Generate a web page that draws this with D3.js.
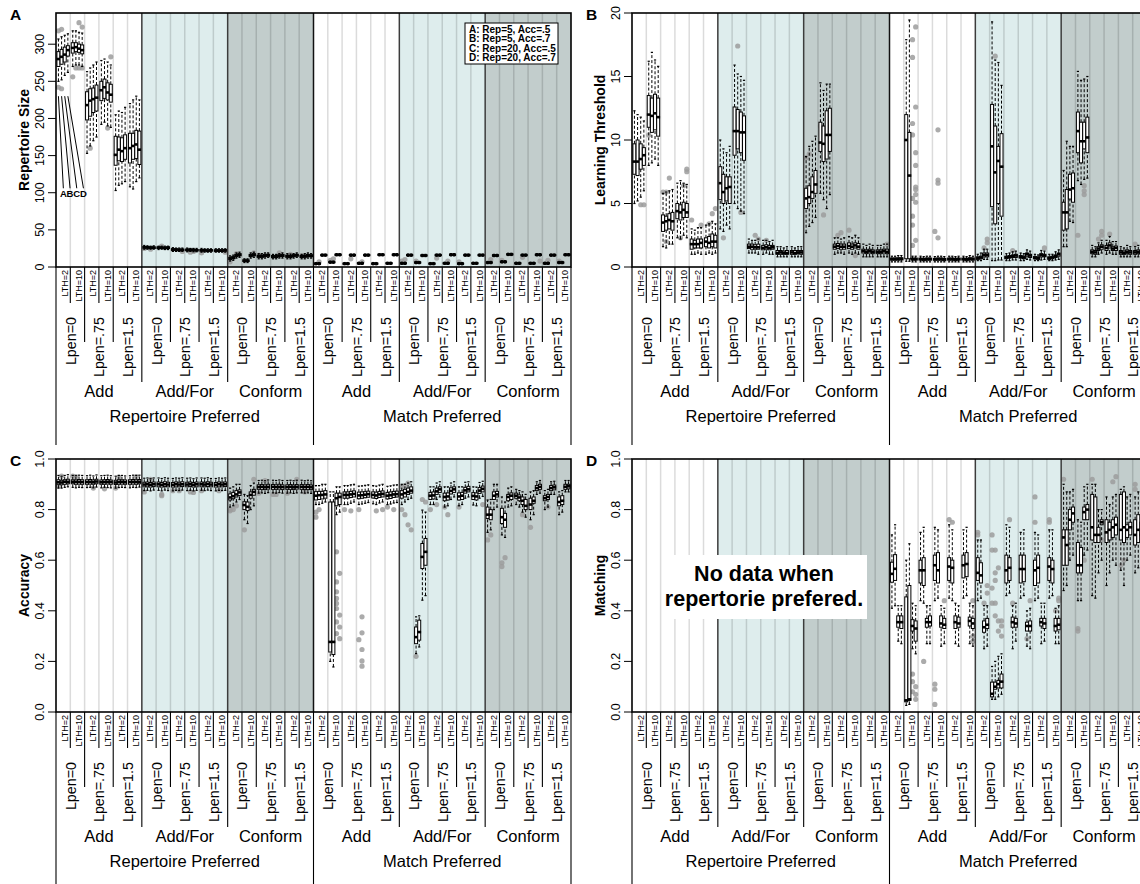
<!DOCTYPE html>
<html>
<head>
<meta charset="utf-8">
<script src="https://cdn.jsdelivr.net/npm/d3@7"></script>
<style>
body { margin: 0; background: #fff; }
svg { display: block; font-family: "Liberation Sans", Arial, sans-serif; }
</style>
</head>
<body>
<svg id="chart" width="1140" height="884"></svg>
<script>
// categories (x axis nesting: preference > update rule > Lpen > LTH)
var prefs = ["Repertoire Preferred", "Match Preferred"];
var types = ["Add", "Add/For", "Conform"];
var lpens = ["Lpen=0", "Lpen=.75", "Lpen=1.5"];
var lths = ["LTH=2", "LTH=10"];
var conds = ["A: Rep=5, Acc=.5", "B: Rep=5, Acc=.7", "C: Rep=20, Acc=.5", "D: Rep=20, Acc=.7"];

// each group: 4 boxes (A,B,C,D) as [lowWhisker, q1, median, q3, highWhisker]
var sizeBoxes = [
  [[250,270,280,290,307],[252,273,283,293,310],[258,276,286,296,312],[262,284,292,298,314]],
  [[270,288,295,302,318],[272,290,296,302,318],[272,289,294,300,316],[270,287,292,299,315]],
  [[153,198,218,236,263],[163,203,224,240,268],[170,208,226,241,272],[175,210,228,245,276]],
  [[192,224,238,250,278],[195,227,242,253,280],[190,225,235,248,276],[188,222,232,246,272]],
  [[103,137,151,176,205],[110,143,158,175,210],[112,142,156,174,208],[115,145,160,178,215]],
  [[108,140,160,180,220],[105,145,163,180,225],[115,146,165,184,230],[120,138,158,183,225]],
  [[24,25.5,26.5,27.5,29],[24,25.5,26.5,27,28.5],[24,25,26,27,28],[24,25,26,27,28.5]],
  [[23.5,25,26,27,28],[24,25,26,26.5,28],[23.5,25,25.5,26.5,28],[23.5,25,26,27,28]],
  [[21,22.5,23.5,24.5,26],[21,22.5,23.5,24,25.5],[21,22,23,24,25.5],[21,22.5,23,24,25.5]],
  [[20.5,22,23,24,25.5],[21,22,23,24,25],[20.5,22,23,23.5,25],[20.5,22,22.5,23.5,25]],
  [[20,21.5,22.5,23.5,25],[20,21.5,22.5,23,24.5],[20,21.5,22,23,24.5],[20,21.5,22.5,23,24.5]],
  [[20,21.5,22,23,24.5],[20,21,22,23,24.5],[20,21.5,22,23,24.5],[20,21.5,22.5,23,24.5]],
  [[8,10,11.5,13,15],[9,11,12.5,14,16],[12,14,15.5,17,19],[13,15,16.5,18,20]],
  [[6,7.5,8.5,9.5,11],[6,7.5,8.5,9.5,11],[12,14,15.5,17,19],[13,15,16.5,18,20]],
  [[11,13,14.5,16,18],[11,13,14.5,16,18],[12,14,15.5,17,19],[13,14.5,16,17,19]],
  [[11,12.5,14,15.5,17],[11,13,14,15.5,17],[12,14,15,16.5,18],[12,14,15.5,17,19]],
  [[11,13,14.5,16,18],[11,13,14,15.5,17.5],[12,14,15.5,16.5,18],[13,14.5,16,17,19]],
  [[11,13,14,15.5,17],[11,13,14.5,16,18],[12,14,15.5,17,19],[12,14,15,16.5,18]],
  [[3,4,4.5,5,6],[3,4,4.5,5,6],[14.5,15.5,16,16.5,17.5],[14.5,15.5,16,16.5,17.5]],
  [[5,6,6.5,7,8],[5,6,6.5,7,8],[15,16,16.5,17,18],[15,16,16.5,17,18]],
  [[3,4,4.5,5,6],[3,4,4.5,5,6],[14.5,15.5,16,16.5,17.5],[14.5,15.5,16,16.5,17.5]],
  [[3.5,4.5,5,5.5,6.5],[3.5,4.5,5,5.5,6.5],[14.5,15.5,16,16.5,17.5],[14.5,15.5,16,16.5,17.5]],
  [[3,4,4.5,5,6],[3,4,4.5,5,6],[15,16,16.5,17,18],[15,16,16.5,17,18]],
  [[3.5,4.5,5,5.5,6.5],[3.5,4.5,5,5.5,6.5],[15,16,16.5,17,18],[15,16,16.5,17,18]],
  [[3.5,4.5,5,5.5,6.5],[3.5,4.5,5,5.5,6.5],[14.5,15.5,16,16.5,17.5],[14.5,15.5,16,16.5,17.5]],
  [[4.5,5.5,6,6.5,7.5],[4.5,5.5,6,6.5,7.5],[14,15,15.5,16,17],[14,15,15.5,16,17]],
  [[3,4,4.5,5,6],[3,4,4.5,5,6],[14.5,15.5,16,16.5,17.5],[14.5,15.5,16,16.5,17.5]],
  [[3.5,4.5,5,5.5,6.5],[3.5,4.5,5,5.5,6.5],[15,16,16.5,17,18],[15,16,16.5,17,18]],
  [[3,4,4.5,5,6],[3,4,4.5,5,6],[14.5,15.5,16,16.5,17.5],[14.5,15.5,16,16.5,17.5]],
  [[3.5,4.5,5,5.5,6.5],[3.5,4.5,5,5.5,6.5],[14.5,15.5,16,16.5,17.5],[14.5,15.5,16,16.5,17.5]],
  [[4.5,5.5,6,6.5,7.5],[4.5,5.5,6,6.5,7.5],[14,15,15.5,16,17],[14,15,15.5,16,17]],
  [[5.5,6.5,7,7.5,8.5],[5.5,6.5,7,7.5,8.5],[15.5,16.5,17,17.5,18.5],[15.5,16.5,17,17.5,18.5]],
  [[3.5,4.5,5,5.5,6.5],[3.5,4.5,5,5.5,6.5],[14.5,15.5,16,16.5,17.5],[14.5,15.5,16,16.5,17.5]],
  [[3.5,4.5,5,5.5,6.5],[3.5,4.5,5,5.5,6.5],[15,16,16.5,17,18],[15,16,16.5,17,18]],
  [[3.5,4.5,5,5.5,6.5],[3.5,4.5,5,5.5,6.5],[14.5,15.5,16,16.5,17.5],[14.5,15.5,16,16.5,17.5]],
  [[4.5,5.5,6,6.5,7.5],[4.5,5.5,6,6.5,7.5],[15,16,16.5,17,18],[15,16,16.5,17,18]]
];
// outliers: [group, condition, value]
var sizeOut = [
  [0,0,242],[0,0,318],[0,1,240],[0,1,320],[1,0,256],[1,1,268],[1,2,329],[1,2,268],[1,3,323],[1,3,268],
  [2,1,160],[3,3,283],[3,2,187],[6,0,25],[6,2,24],[7,1,28],[8,3,21],[9,1,20],[9,2,21],[10,0,19],[11,3,20],
  [12,0,7],[12,2,18],[13,3,19],[14,0,16],[15,2,19],[16,1,17],[17,0,15],[18,1,7],[19,0,9],[19,1,11],
  [20,2,11],[21,1,7],[24,0,8],[24,1,10],[25,0,8],[26,2,12],[27,1,8],[28,0,7],[30,1,10],[31,0,9],
  [32,2,13],[33,3,8],[34,1,9],[35,0,8]
];

var thresholdBoxes = [
  [[5.0,7.3,8.3,9.7,12.3],[5.2,7.2,8.3,10.0,12.0],[5.5,7.7,8.5,9.7,11.8],[6.0,8.0,8.8,9.4,11.5]],
  [[8.0,11.0,12.0,13.5,16.2],[8.2,10.6,11.9,13.3,16.9],[8.5,10.8,12.1,13.6,16.3],[8.0,10.3,11.8,13.3,15.8]],
  [[1.6,2.8,3.5,4.1,5.8],[1.5,2.9,3.6,4.0,5.9],[1.8,3.0,3.7,4.2,6.0],[1.8,2.9,3.6,4.3,6.1]],
  [[2.3,3.8,4.4,5.0,6.6],[2.2,3.7,4.3,4.9,6.8],[2.5,3.9,4.5,5.1,6.6],[2.3,3.9,4.3,5.0,6.5]],
  [[1.0,1.4,1.8,2.2,3.0],[1.0,1.5,1.8,2.1,2.9],[1.1,1.5,1.8,2.2,3.1],[1.0,1.5,1.9,2.2,3.1]],
  [[1.0,1.6,2.0,2.3,3.3],[1.1,1.5,1.9,2.4,3.4],[1.0,1.6,2.0,2.6,3.6],[1.1,1.5,2.0,2.5,3.4]],
  [[3.0,5.3,6.6,7.9,10.0],[2.8,5.0,5.9,7.3,9.3],[3.3,5.2,6.2,7.1,9.0],[3.0,5.0,6.3,7.1,9.5]],
  [[5.0,8.8,10.7,12.6,15.9],[4.6,9.3,10.7,12.4,15.2],[4.4,9.0,10.6,12.2,15.0],[4.2,8.4,10.6,11.9,14.7]],
  [[1.1,1.45,1.6,1.8,2.2],[1.1,1.4,1.6,1.8,2.1],[1.1,1.4,1.55,1.75,2.1],[1.0,1.4,1.55,1.8,2.2]],
  [[1.0,1.35,1.5,1.7,2.1],[1.1,1.4,1.55,1.75,2.1],[1.0,1.35,1.5,1.7,2.0],[1.0,1.4,1.55,1.7,2.1]],
  [[0.8,1.0,1.1,1.3,1.6],[0.8,1.0,1.15,1.3,1.6],[0.8,1.0,1.1,1.25,1.5],[0.8,1.0,1.1,1.3,1.6]],
  [[0.8,1.0,1.15,1.3,1.6],[0.8,1.0,1.1,1.3,1.5],[0.8,1.05,1.15,1.3,1.6],[0.8,1.0,1.15,1.3,1.6]],
  [[2.7,4.6,5.4,6.2,8.7],[3.2,5.0,5.5,6.4,9.5],[3.5,5.4,5.9,7.1,9.9],[3.9,5.8,6.5,7.6,10.3]],
  [[5.8,9.1,9.8,11.4,14.5],[5.3,8.3,9.7,11.1,13.9],[4.6,8.5,10.4,12.3,14.4],[5.7,9.1,10.4,12.5,14.4]],
  [[1.0,1.4,1.6,1.8,2.3],[1.1,1.45,1.65,1.85,2.3],[1.1,1.4,1.6,1.8,2.2],[1.0,1.4,1.6,1.8,2.3]],
  [[1.1,1.45,1.65,1.9,2.4],[1.0,1.4,1.6,1.8,2.3],[1.1,1.5,1.7,1.9,2.5],[1.0,1.4,1.6,1.85,2.3]],
  [[0.8,1.1,1.25,1.4,1.8],[0.8,1.05,1.2,1.35,1.7],[0.8,1.1,1.25,1.4,1.8],[0.8,1.05,1.2,1.35,1.7]],
  [[0.8,1.05,1.2,1.35,1.7],[0.8,1.05,1.2,1.35,1.7],[0.8,1.1,1.25,1.4,1.8],[0.8,1.05,1.2,1.4,1.8]],
  [[0.4,0.55,0.62,0.7,0.85],[0.4,0.55,0.62,0.7,0.85],[0.4,0.55,0.63,0.72,0.9],[0.4,0.55,0.65,0.72,0.9]],
  [[0.45,0.65,10.0,12.0,17.9],[0.45,0.65,7.2,10.6,19.45],[0.4,0.55,0.62,0.7,0.85],[0.4,0.55,0.62,0.7,0.85]],
  [[0.4,0.55,0.62,0.7,0.85],[0.4,0.5,0.6,0.68,0.82],[0.4,0.55,0.62,0.7,0.85],[0.4,0.55,0.62,0.7,0.85]],
  [[0.4,0.55,0.6,0.68,0.82],[0.4,0.55,0.62,0.7,0.85],[0.4,0.55,0.62,0.7,0.85],[0.4,0.5,0.6,0.68,0.82]],
  [[0.4,0.55,0.62,0.7,0.85],[0.4,0.55,0.62,0.7,0.85],[0.4,0.5,0.6,0.68,0.82],[0.4,0.55,0.62,0.7,0.85]],
  [[0.4,0.55,0.62,0.7,0.85],[0.4,0.5,0.6,0.68,0.82],[0.4,0.55,0.65,0.72,0.9],[0.4,0.55,0.62,0.7,0.85]],
  [[0.5,0.6,0.7,0.8,1.0],[0.5,0.65,0.75,0.85,1.1],[0.6,0.8,0.95,1.1,1.4],[0.6,0.8,0.95,1.1,1.4]],
  [[0.5,4.75,9.5,12.8,19.3],[0.5,3.4,7.45,11.1,16.3],[0.55,5.0,8.35,9.5,16.1],[0.55,4.0,7.9,10.5,14.3]],
  [[0.5,0.65,0.75,0.85,1.05],[0.5,0.7,0.8,0.9,1.1],[0.55,0.75,0.85,0.95,1.2],[0.55,0.75,0.9,1.0,1.25]],
  [[0.5,0.7,0.8,0.9,1.1],[0.5,0.65,0.75,0.85,1.05],[0.6,0.85,1.0,1.1,1.35],[0.55,0.75,0.9,1.0,1.25]],
  [[0.5,0.65,0.72,0.82,1.0],[0.5,0.6,0.7,0.8,0.95],[0.55,0.8,0.95,1.05,1.3],[0.6,0.8,0.9,1.0,1.25]],
  [[0.5,0.6,0.7,0.8,1.0],[0.5,0.65,0.75,0.85,1.0],[0.55,0.75,0.85,0.95,1.2],[0.6,0.85,1.0,1.1,1.35]],
  [[1.6,2.9,4.3,5.1,7.6],[1.6,3.0,4.3,6.1,9.9],[3.6,5.35,6.1,7.3,9.5],[3.5,5.1,6.2,7.4,9.5]],
  [[6.8,9.0,10.7,12.2,15.4],[6.5,8.2,9.9,11.4,14.7],[6.9,9.3,9.9,11.4,14.8],[7.0,9.0,10.2,11.8,15.0]],
  [[0.8,1.05,1.2,1.35,1.7],[0.8,1.0,1.15,1.3,1.6],[1.0,1.3,1.45,1.6,1.9],[1.1,1.4,1.6,1.75,2.1]],
  [[1.0,1.3,1.5,1.7,2.1],[1.1,1.5,1.7,1.9,2.4],[1.0,1.3,1.45,1.6,2.0],[1.0,1.3,1.5,1.65,2.0]],
  [[0.8,1.0,1.15,1.3,1.6],[0.8,1.0,1.1,1.25,1.5],[0.8,1.05,1.2,1.35,1.7],[0.8,1.0,1.15,1.3,1.6]],
  [[0.8,1.0,1.15,1.3,1.6],[0.8,1.05,1.2,1.35,1.7],[0.8,1.0,1.15,1.3,1.6],[0.8,1.0,1.1,1.3,1.6]]
];
var thresholdOut = [
  [0,2,4.9],[0,3,4.9],[1,0,10.4],[2,0,5.9],[2,1,5.9],[2,2,7.0],[2,1,2.0],[3,3,7.7],[3,3,7.5],[3,2,6.4],
  [3,1,2.3],[4,0,3.7],[4,3,3.3],[5,1,3.4],[5,2,4.2],[5,3,4.6],[6,1,2.3],[7,1,17.4],[7,2,4.3],[8,2,2.5],
  [8,3,2.2],[9,1,2.1],[12,0,8.6],[12,1,8.9],[13,0,11.1],[13,1,4.1],[14,1,2.5],[14,2,2.7],[15,0,2.9],
  [15,2,0.9],[17,3,1.8],
  [19,2,17.9],[19,2,16.5],[19,2,11.3],[19,2,10.4],[19,2,5.4],[19,2,4.0],[19,2,3.3],[19,2,1.7],
  [19,3,18.9],[19,3,12.6],[19,3,9.0],[19,3,8.0],[19,3,6.3],[19,3,6.1],[19,3,5.7],[19,3,5.1],[19,3,2.1],
  [21,1,10.8],[21,1,6.85],[21,1,6.6],[21,0,2.8],[21,1,2.3],[24,2,1.5],[24,3,1.9],[24,3,2.2],[25,1,16.6],
  [26,2,1.3],[28,3,1.5],[31,0,2.5],[31,2,5.7],[31,2,6.0],[31,2,6.4],[32,2,2.2],[32,3,2.5],[32,3,2.8],
  [33,1,2.6],[35,0,1.8]
];

var accuracyBoxes = [
  [[0.885,0.9,0.908,0.918,0.935],[0.885,0.898,0.907,0.916,0.932],[0.888,0.9,0.91,0.918,0.935],[0.89,0.902,0.91,0.92,0.938]],
  [[0.888,0.902,0.91,0.918,0.935],[0.886,0.9,0.909,0.917,0.934],[0.888,0.901,0.91,0.919,0.936],[0.887,0.9,0.909,0.918,0.935]],
  [[0.887,0.9,0.909,0.918,0.934],[0.888,0.901,0.91,0.919,0.936],[0.886,0.9,0.908,0.917,0.933],[0.889,0.902,0.911,0.92,0.937]],
  [[0.886,0.9,0.908,0.917,0.934],[0.888,0.9,0.909,0.918,0.935],[0.887,0.901,0.91,0.919,0.936],[0.886,0.9,0.909,0.917,0.934]],
  [[0.885,0.899,0.907,0.916,0.932],[0.887,0.9,0.909,0.918,0.935],[0.888,0.901,0.91,0.918,0.935],[0.887,0.9,0.908,0.917,0.933]],
  [[0.886,0.9,0.909,0.918,0.934],[0.888,0.901,0.91,0.919,0.936],[0.887,0.9,0.909,0.918,0.935],[0.889,0.902,0.91,0.919,0.936]],
  [[0.875,0.89,0.899,0.908,0.924],[0.876,0.89,0.9,0.909,0.925],[0.874,0.889,0.898,0.907,0.922],[0.877,0.891,0.9,0.909,0.925]],
  [[0.876,0.89,0.9,0.909,0.925],[0.874,0.889,0.898,0.907,0.923],[0.877,0.891,0.9,0.91,0.926],[0.875,0.89,0.899,0.908,0.924]],
  [[0.874,0.889,0.898,0.907,0.923],[0.876,0.89,0.9,0.909,0.925],[0.875,0.89,0.899,0.908,0.924],[0.877,0.891,0.9,0.91,0.926]],
  [[0.875,0.89,0.899,0.908,0.924],[0.876,0.891,0.9,0.909,0.925],[0.874,0.889,0.898,0.907,0.922],[0.876,0.89,0.9,0.909,0.925]],
  [[0.876,0.89,0.9,0.909,0.925],[0.875,0.89,0.899,0.908,0.924],[0.877,0.891,0.901,0.91,0.926],[0.875,0.89,0.899,0.908,0.923]],
  [[0.874,0.889,0.898,0.907,0.923],[0.876,0.89,0.9,0.909,0.925],[0.875,0.89,0.899,0.908,0.924],[0.876,0.891,0.9,0.909,0.925]],
  [[0.81,0.838,0.848,0.862,0.885],[0.815,0.843,0.853,0.868,0.89],[0.83,0.85,0.86,0.875,0.9],[0.84,0.856,0.868,0.878,0.9]],
  [[0.76,0.8,0.818,0.831,0.86],[0.745,0.796,0.811,0.83,0.855],[0.8,0.845,0.858,0.87,0.895],[0.815,0.857,0.87,0.88,0.905]],
  [[0.865,0.88,0.889,0.898,0.915],[0.866,0.88,0.89,0.899,0.916],[0.864,0.879,0.888,0.897,0.914],[0.867,0.881,0.89,0.9,0.917]],
  [[0.866,0.88,0.89,0.899,0.916],[0.865,0.88,0.889,0.898,0.915],[0.867,0.881,0.89,0.9,0.917],[0.865,0.879,0.889,0.898,0.915]],
  [[0.865,0.88,0.889,0.898,0.915],[0.866,0.88,0.89,0.899,0.916],[0.864,0.879,0.888,0.897,0.914],[0.866,0.881,0.89,0.899,0.916]],
  [[0.866,0.88,0.89,0.899,0.916],[0.865,0.879,0.889,0.898,0.914],[0.866,0.88,0.89,0.899,0.916],[0.864,0.879,0.888,0.897,0.914]],
  [[0.82,0.838,0.855,0.871,0.895],[0.82,0.84,0.857,0.872,0.895],[0.825,0.842,0.858,0.872,0.9],[0.83,0.845,0.86,0.875,0.9]],
  [[0.2,0.237,0.277,0.83,0.87],[0.178,0.227,0.277,0.83,0.87],[0.78,0.815,0.845,0.865,0.89],[0.79,0.82,0.85,0.865,0.89]],
  [[0.82,0.845,0.858,0.87,0.895],[0.82,0.845,0.858,0.87,0.895],[0.825,0.848,0.86,0.872,0.898],[0.83,0.85,0.862,0.874,0.9]],
  [[0.82,0.843,0.856,0.869,0.893],[0.822,0.845,0.857,0.87,0.894],[0.825,0.847,0.859,0.871,0.896],[0.828,0.849,0.861,0.873,0.898]],
  [[0.823,0.846,0.858,0.87,0.895],[0.82,0.844,0.856,0.869,0.893],[0.826,0.848,0.86,0.872,0.897],[0.83,0.85,0.862,0.874,0.9]],
  [[0.82,0.842,0.855,0.868,0.892],[0.822,0.844,0.857,0.87,0.894],[0.826,0.848,0.86,0.872,0.897],[0.828,0.85,0.861,0.873,0.898]],
  [[0.82,0.845,0.86,0.875,0.9],[0.83,0.85,0.865,0.88,0.9],[0.84,0.86,0.87,0.885,0.905],[0.845,0.865,0.875,0.89,0.91]],
  [[0.231,0.27,0.296,0.336,0.376],[0.257,0.284,0.316,0.363,0.38],[0.442,0.567,0.613,0.666,0.798],[0.46,0.58,0.633,0.686,0.79]],
  [[0.82,0.84,0.855,0.868,0.89],[0.82,0.842,0.856,0.87,0.89],[0.84,0.86,0.872,0.885,0.905],[0.85,0.868,0.88,0.89,0.91]],
  [[0.81,0.835,0.85,0.865,0.89],[0.815,0.838,0.852,0.866,0.89],[0.84,0.862,0.874,0.886,0.905],[0.85,0.868,0.88,0.89,0.91]],
  [[0.815,0.838,0.852,0.866,0.89],[0.82,0.84,0.855,0.868,0.89],[0.845,0.865,0.876,0.888,0.908],[0.85,0.87,0.88,0.892,0.91]],
  [[0.818,0.84,0.854,0.867,0.89],[0.815,0.838,0.852,0.866,0.889],[0.845,0.864,0.875,0.887,0.907],[0.852,0.87,0.882,0.893,0.912]],
  [[0.71,0.765,0.78,0.81,0.838],[0.72,0.76,0.78,0.8,0.84],[0.8,0.84,0.855,0.87,0.9],[0.81,0.85,0.86,0.872,0.9]],
  [[0.7,0.745,0.77,0.805,0.85],[0.69,0.73,0.76,0.785,0.83],[0.81,0.835,0.85,0.86,0.885],[0.815,0.84,0.855,0.866,0.89]],
  [[0.82,0.845,0.855,0.865,0.88],[0.81,0.835,0.848,0.858,0.875],[0.79,0.82,0.835,0.85,0.87],[0.77,0.8,0.815,0.84,0.86]],
  [[0.76,0.8,0.82,0.845,0.87],[0.78,0.825,0.835,0.85,0.875],[0.86,0.875,0.885,0.895,0.91],[0.865,0.88,0.89,0.9,0.915]],
  [[0.8,0.835,0.845,0.855,0.875],[0.81,0.84,0.85,0.86,0.88],[0.86,0.875,0.885,0.895,0.91],[0.86,0.878,0.888,0.897,0.912]],
  [[0.78,0.815,0.83,0.85,0.87],[0.79,0.82,0.835,0.855,0.875],[0.87,0.88,0.89,0.9,0.915],[0.87,0.882,0.892,0.9,0.915]]
];
var accuracyOut = [
  [0,0,0.893],[0,1,0.932],[1,0,0.932],[1,1,0.93],[2,2,0.885],[3,1,0.882],[4,0,0.885],[4,1,0.928],[5,2,0.93],
  [6,0,0.87],[6,2,0.92],[7,1,0.86],[7,1,0.855],[8,0,0.875],[8,2,0.875],[9,1,0.87],[9,2,0.868],[10,0,0.875],
  [11,1,0.875],[12,0,0.80],[12,0,0.795],[12,1,0.80],[12,2,0.815],[13,0,0.72],[13,3,0.92],[14,0,0.865],
  [14,2,0.915],[15,0,0.86],[15,1,0.86],[16,0,0.865],[16,3,0.92],[17,1,0.87],[18,0,0.77],[18,0,0.79],[18,1,0.80],
  [19,2,0.633],[19,2,0.514],[19,2,0.475],[19,2,0.449],[19,2,0.429],[19,2,0.409],[19,2,0.356],[19,2,0.31],
  [19,3,0.548],[19,3,0.383],[19,3,0.336],[19,3,0.29],[20,0,0.80],[20,2,0.795],[21,0,0.286],[21,1,0.376],
  [21,1,0.313],[21,1,0.247],[21,1,0.202],[21,1,0.181],[21,0,0.80],[22,1,0.795],[22,3,0.80],[23,0,0.81],
  [23,2,0.80],[24,0,0.80],[24,1,0.78],[24,2,0.74],[24,3,0.72],[24,0,0.89],[24,1,0.895],[24,2,0.905],
  [25,0,0.22],[25,2,0.84],[25,3,0.83],[26,0,0.8],[26,2,0.82],[27,1,0.78],[27,0,0.81],[28,0,0.81],[29,3,0.82],
  [30,0,0.68],[30,1,0.70],[31,0,0.59],[31,1,0.61],[31,0,0.575],[32,2,0.78],[33,0,0.73],[34,1,0.81]
];

var matchingBoxes = [
  null,null,null,null,null,null,null,null,null,null,null,null,null,null,null,null,null,null,
  [[0.41,0.513,0.546,0.592,0.70],[0.42,0.52,0.566,0.622,0.74],[0.28,0.335,0.355,0.38,0.42],[0.27,0.33,0.355,0.38,0.42]],
  [[0.026,0.04,0.046,0.455,0.60],[0.03,0.046,0.05,0.50,0.665],[0.25,0.32,0.34,0.365,0.43],[0.23,0.28,0.33,0.36,0.42]],
  [[0.44,0.51,0.56,0.60,0.71],[0.43,0.50,0.56,0.61,0.73],[0.27,0.335,0.355,0.37,0.42],[0.27,0.34,0.355,0.38,0.42]],
  [[0.44,0.52,0.58,0.62,0.73],[0.45,0.51,0.56,0.63,0.72],[0.26,0.335,0.35,0.38,0.42],[0.27,0.33,0.345,0.37,0.41]],
  [[0.45,0.52,0.575,0.61,0.74],[0.44,0.51,0.57,0.60,0.72],[0.27,0.33,0.355,0.38,0.43],[0.26,0.335,0.35,0.375,0.42]],
  [[0.45,0.53,0.58,0.62,0.72],[0.46,0.535,0.585,0.63,0.73],[0.27,0.34,0.36,0.375,0.43],[0.26,0.33,0.35,0.37,0.42]],
  [[0.44,0.52,0.55,0.61,0.68],[0.45,0.51,0.54,0.59,0.68],[0.25,0.315,0.335,0.36,0.42],[0.26,0.33,0.345,0.37,0.42]],
  [[0.05,0.06,0.072,0.118,0.18],[0.05,0.09,0.10,0.118,0.2],[0.06,0.095,0.11,0.125,0.22],[0.07,0.095,0.12,0.15,0.23]],
  [[0.46,0.51,0.56,0.62,0.74],[0.47,0.52,0.57,0.61,0.73],[0.25,0.335,0.355,0.375,0.42],[0.28,0.335,0.35,0.37,0.43]],
  [[0.45,0.51,0.565,0.62,0.71],[0.46,0.515,0.565,0.62,0.72],[0.26,0.32,0.34,0.355,0.40],[0.25,0.32,0.34,0.36,0.41]],
  [[0.44,0.50,0.56,0.60,0.71],[0.45,0.51,0.57,0.62,0.70],[0.27,0.34,0.355,0.37,0.43],[0.28,0.33,0.35,0.37,0.43]],
  [[0.45,0.52,0.575,0.61,0.72],[0.46,0.51,0.565,0.60,0.72],[0.27,0.32,0.34,0.37,0.41],[0.27,0.325,0.345,0.37,0.42]],
  [[0.48,0.58,0.69,0.72,0.90],[0.50,0.58,0.66,0.72,0.87],[0.60,0.72,0.76,0.80,0.87],[0.62,0.75,0.785,0.81,0.88]],
  [[0.44,0.55,0.58,0.67,0.76],[0.44,0.55,0.58,0.65,0.75],[0.62,0.76,0.79,0.81,0.89],[0.64,0.76,0.80,0.82,0.90]],
  [[0.46,0.68,0.73,0.86,0.90],[0.45,0.67,0.70,0.85,0.90],[0.55,0.67,0.70,0.73,0.80],[0.60,0.74,0.75,0.76,0.80]],
  [[0.50,0.67,0.71,0.76,0.85],[0.55,0.68,0.72,0.75,0.82],[0.60,0.69,0.73,0.76,0.85],[0.58,0.70,0.74,0.77,0.86]],
  [[0.56,0.68,0.72,0.86,0.88],[0.50,0.67,0.73,0.87,0.89],[0.60,0.69,0.72,0.74,0.85],[0.62,0.70,0.73,0.75,0.86]],
  [[0.55,0.66,0.70,0.76,0.85],[0.57,0.67,0.72,0.78,0.87],[0.58,0.67,0.70,0.75,0.86],[0.60,0.68,0.71,0.75,0.85]]
];
var matchingOut = [
  [19,2,0.15],[19,2,0.12],[19,2,0.08],[19,3,0.1],[19,3,0.07],[19,3,0.05],[21,0,0.11],[21,0,0.09],[21,0,0.03],
  [20,1,0.2],[21,3,0.44],[23,3,0.44],[23,3,0.3],[23,3,0.28],[22,0,0.76],[22,1,0.75],[24,0,0.71],[24,0,0.70],
  [24,2,0.43],[24,3,0.5],[24,3,0.47],[25,0,0.7],[25,0,0.64],[25,0,0.49],[25,0,0.43],[25,1,0.64],[25,1,0.55],
  [25,1,0.52],[25,1,0.43],[25,2,0.36],[25,2,0.32],[25,3,0.34],[25,3,0.3],[25,3,0.36],[25,2,0.57],[25,1,0.38],
  [26,2,0.43],[26,1,0.76],[27,2,0.29],[27,3,0.44],[28,0,0.85],[28,0,0.75],[29,0,0.75],[29,0,0.76],[29,3,0.44],
  [29,3,0.45],[29,2,0.4],[30,0,0.92],[31,0,0.33],[31,0,0.32],[31,2,0.6],[31,1,0.62],[32,0,0.92],[32,3,0.68],
  [33,2,0.91],[33,3,0.93],[34,0,0.58],[34,1,0.6],[35,0,0.9],[35,0,0.88]
];

var sizeTicks = [0, 50, 100, 150, 200, 250, 300];
var thresholdTicks = [0, 5, 10, 15, 20];
var propTicks = [0, 0.2, 0.4, 0.6, 0.8, 1.0];

var svg = d3.select("#chart");
var nGroups = 36;
var plotW = 515;
var bgColors = ["#ffffff", "#deeded", "#c2cdcc"];
var offs = [0.17, 0.39, 0.61, 0.83];  // box centres inside a group

var panels = [
  { letter: "A", title: "Repertoire Size", left: 56, top: 13, bottom: 267, domain: [0, 342],
    ticks: sizeTicks, fmt: d3.format("d"), boxes: sizeBoxes, outs: sizeOut },
  { letter: "B", title: "Learning Threshold", left: 632, top: 13, bottom: 267, domain: [0, 20],
    ticks: thresholdTicks, fmt: d3.format("d"), boxes: thresholdBoxes, outs: thresholdOut },
  { letter: "C", title: "Accuracy", left: 56, top: 459, bottom: 712, domain: [0, 1],
    ticks: propTicks, fmt: d3.format(".1f"), boxes: accuracyBoxes, outs: accuracyOut },
  { letter: "D", title: "Matching", left: 632, top: 459, bottom: 712, domain: [0, 1],
    ticks: propTicks, fmt: d3.format(".1f"), boxes: matchingBoxes, outs: matchingOut }
];

panels.forEach(drawPanel);

function drawPanel(p) {
  var g = svg.append("g");
  var x = d3.scaleLinear().domain([0, nGroups]).range([p.left, p.left + plotW]);
  var y = d3.scaleLinear().domain(p.domain).range([p.bottom, p.top]);

  // section backgrounds
  prefs.forEach(function(pr, pi) {
    types.forEach(function(t, ti) {
      var k = pi * 18 + ti * 6;
      g.append("rect")
        .attr("x", x(k)).attr("y", p.top)
        .attr("width", x(k + 6) - x(k)).attr("height", p.bottom - p.top)
        .attr("fill", bgColors[ti]);
    });
  });

  // light lines between groups
  d3.range(1, nGroups).filter(function(k) { return k % 6 != 0; }).forEach(function(k) {
    g.append("line")
      .attr("x1", x(k)).attr("x2", x(k))
      .attr("y1", p.top).attr("y2", p.bottom)
      .attr("stroke", "#000").attr("stroke-opacity", 0.14).attr("stroke-width", 1.5);
  });

  // outliers
  g.selectAll(".out")
    .data(p.outs)
    .enter()
    .append("circle")
    .attr("cx", function(d) { return x(d[0] + offs[d[1]]); })
    .attr("cy", function(d) { return y(d[2]); })
    .attr("r", 2.6)
    .attr("fill", "#9c9c9c")
    .attr("fill-opacity", 0.85);

  // boxes
  p.boxes.forEach(function(grp, gi) {
    if (!grp) return;
    grp.forEach(function(b, ci) {
      var cx = x(gi + offs[ci]);
      var bx = g.append("g");
      bx.append("line")
        .attr("x1", cx).attr("x2", cx).attr("y1", y(b[0])).attr("y2", y(b[1]))
        .attr("stroke", "#000").attr("stroke-width", 1).attr("stroke-dasharray", "3,2");
      bx.append("line")
        .attr("x1", cx).attr("x2", cx).attr("y1", y(b[3])).attr("y2", y(b[4]))
        .attr("stroke", "#000").attr("stroke-width", 1).attr("stroke-dasharray", "3,2");
      [b[0], b[4]].forEach(function(v) {
        bx.append("line")
          .attr("x1", cx - 1.1).attr("x2", cx + 1.1).attr("y1", y(v)).attr("y2", y(v))
          .attr("stroke", "#000").attr("stroke-width", 1.2);
      });
      bx.append("rect")
        .attr("x", cx - 1.5).attr("width", 3)
        .attr("y", y(b[3])).attr("height", Math.max(0.5, y(b[1]) - y(b[3])))
        .attr("fill", "#fff").attr("stroke", "#000").attr("stroke-width", 1);
      bx.append("line")
        .attr("x1", cx - 1.9).attr("x2", cx + 1.9).attr("y1", y(b[2])).attr("y2", y(b[2]))
        .attr("stroke", "#000").attr("stroke-width", 2.6);
    });
  });

  // dark lines between update rules
  [6, 12, 18, 24, 30].forEach(function(k) {
    g.append("line")
      .attr("x1", x(k)).attr("x2", x(k))
      .attr("y1", p.top).attr("y2", p.bottom)
      .attr("stroke", k == 18 ? "#111" : "#3c3c3c").attr("stroke-width", 1.5);
  });

  // frame
  g.append("rect")
    .attr("x", p.left).attr("y", p.top)
    .attr("width", plotW).attr("height", p.bottom - p.top)
    .attr("fill", "none").attr("stroke", "#000").attr("stroke-width", 1.6);

  // y axis
  p.ticks.forEach(function(v) {
    g.append("line")
      .attr("x1", p.left - 8).attr("x2", p.left)
      .attr("y1", y(v)).attr("y2", y(v))
      .attr("stroke", "#000").attr("stroke-width", 1);
    g.append("text")
      .attr("transform", "translate(" + (p.left - 12.5) + "," + y(v) + ") rotate(-90)")
      .attr("text-anchor", "middle")
      .style("font-size", "12.5px")
      .text(p.fmt(v));
  });
  g.append("text")
    .attr("transform", "translate(" + (p.left - 27.5) + "," + ((p.top + p.bottom) / 2) + ") rotate(-90)")
    .attr("text-anchor", "middle")
    .style("font-size", "14px").style("font-weight", "bold")
    .text(p.title);
  g.append("text")
    .attr("x", p.left - 46).attr("y", p.top + 7)
    .style("font-size", "15.5px").style("font-weight", "bold")
    .text(p.letter);

  // nested category axis under the plot
  var base = p.bottom;
  d3.range(0, nGroups + 1).forEach(function(k) {
    var len = k % 18 == 0 ? 178 : k % 6 == 0 ? 115 : k % 2 == 0 ? 75 : 36;
    g.append("line")
      .attr("x1", x(k)).attr("x2", x(k))
      .attr("y1", base).attr("y2", base + len)
      .attr("stroke", "#000").attr("stroke-width", 1.1);
  });
  d3.range(nGroups).forEach(function(k) {
    g.append("text")
      .attr("transform", "translate(" + (x(k + 0.5) + 4.5) + "," + (base + 3) + ") rotate(-90)")
      .attr("text-anchor", "end")
      .style("font-size", "9px")
      .text(lths[k % 2]);
  });
  d3.range(18).forEach(function(k) {
    g.append("text")
      .attr("transform", "translate(" + (x(2 * k + 1) + 5.5) + "," + (base + 50) + ") rotate(-90)")
      .attr("text-anchor", "end")
      .style("font-size", "14.3px")
      .text(lpens[k % 3]);
  });
  d3.range(6).forEach(function(k) {
    g.append("text")
      .attr("x", x(6 * k + 3)).attr("y", base + 129.5)
      .attr("text-anchor", "middle")
      .style("font-size", "16.5px")
      .text(types[k % 3]);
  });
  prefs.forEach(function(pr, k) {
    g.append("text")
      .attr("x", x(18 * k + 9)).attr("y", base + 154.5)
      .attr("text-anchor", "middle")
      .style("font-size", "16.5px")
      .text(pr);
  });

  p.x = x; p.y = y; p.g = g;
}

// legend in panel A
var pa = panels[0];
var leg = pa.g.append("g");
leg.append("rect")
  .attr("x", 465).attr("y", 23).attr("width", 93).attr("height", 41)
  .attr("fill", "#fff").attr("stroke", "#000").attr("stroke-width", 1);
conds.forEach(function(c, i) {
  leg.append("text")
    .attr("x", 469).attr("y", 32.5 + i * 9.5)
    .style("font-size", "10px").style("font-weight", "bold")
    .text(c);
});

// A/B/C/D pointer lines in panel A
var letters = ["A", "B", "C", "D"];
letters.forEach(function(l, i) {
  var lx = 60 + 6.7 * (i + 0.5);
  pa.g.append("line")
    .attr("x1", pa.x(offs[i])).attr("y1", pa.y(230))
    .attr("x2", lx).attr("y2", pa.y(106))
    .attr("stroke", "#000").attr("stroke-width", 1);
  pa.g.append("text")
    .attr("x", lx).attr("y", 197)
    .attr("text-anchor", "middle")
    .style("font-size", "9.5px").style("font-weight", "bold")
    .text(l);
});

// note in panel D
var pd = panels[3];
pd.g.append("rect")
  .attr("x", 662).attr("y", 555).attr("width", 205).attr("height", 64)
  .attr("fill", "#fff");
["No data when", "repertorie prefered."].forEach(function(t, i) {
  pd.g.append("text")
    .attr("x", 764).attr("y", 581 + i * 25)
    .attr("text-anchor", "middle")
    .style("font-size", "21.5px").style("font-weight", "bold")
    .text(t);
});
</script>
</body>
</html>
